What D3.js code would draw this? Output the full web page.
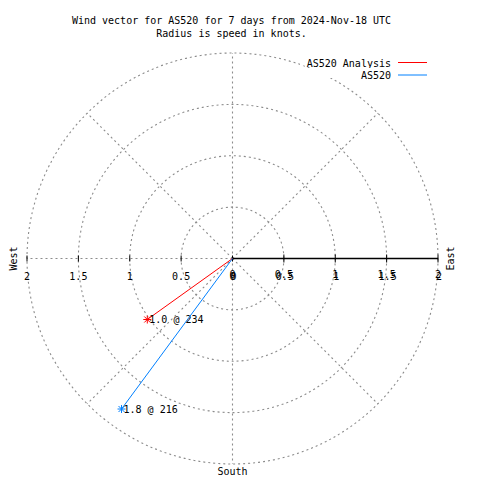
<!DOCTYPE html>
<html><head><meta charset="utf-8">
<script src="https://cdn.jsdelivr.net/npm/d3@7"></script>
<style>body{margin:0;background:#fff}svg{display:block}text{font-family:"DejaVu Sans Mono",monospace;font-size:10px;fill:#000}</style>
</head><body>
<svg id="c" width="480" height="480"></svg>
<script>
const titleLines = ["Wind vector for AS520 for 7 days from 2024-Nov-18 UTC", "Radius is speed in knots."];
const seriesNames = ["AS520 Analysis", "AS520"];
const seriesColors = ["#ff0000", "#0080ff"];
const speeds = [1.02, 1.82];
const directions = [234.4, 216.4];
const radialTicks = [0, 0.5, 1, 1.5, 2];
const gridRadii = [0.5, 1, 1.5, 2];
const spokeAngles = [0, 45, 90, 135, 180, 225, 270, 315];

const svg = d3.select("#c");
const cx = 232.5, cy = 258.5;
const r = d3.scaleLinear().domain([0, 2]).range([0, 205.5]);
const g = svg.append("g").attr("transform", `translate(${cx},${cy})`);
const pt = (sp, dir) => [r(sp) * Math.sin(dir * Math.PI / 180), -r(sp) * Math.cos(dir * Math.PI / 180)];

// grid circles
g.selectAll("circle.grid").data(gridRadii).join("circle")
  .attr("r", d => r(d)).attr("fill", "none").attr("stroke", "#8c8c8c")
  .attr("stroke-width", 1.1).attr("stroke-dasharray", "2,3");
// spokes
g.selectAll("line.spoke").data(spokeAngles).join("line")
  .attr("x1", 0).attr("y1", 0)
  .attr("x2", d => pt(2, d)[0]).attr("y2", d => pt(2, d)[1])
  .attr("stroke", "#8c8c8c").attr("stroke-width", 1.1).attr("stroke-dasharray", "2,3");

// east axis solid
g.append("line").attr("x1", 0).attr("y1", 0).attr("x2", r(2)).attr("y2", 0)
  .attr("stroke", "#000").attr("stroke-width", 1.5);
// ticks east
g.selectAll("line.te").data(radialTicks.slice(1)).join("line")
  .attr("x1", d => r(d)).attr("x2", d => r(d)).attr("y1", -4).attr("y2", 4)
  .attr("stroke", "#000");
// ticks west
g.selectAll("line.tw").data(radialTicks).join("line")
  .attr("x1", d => -r(d)).attr("x2", d => -r(d)).attr("y1", -3).attr("y2", 3)
  .attr("stroke", "#000");
// labels west
g.selectAll("text.lw").data(radialTicks).join("text")
  .attr("x", d => -r(d)).attr("y", 21.5).attr("text-anchor", "middle").text(d => d);
// labels east (printed twice, slightly offset, as in the reference)
[[0, 19], [1, 21.5]].forEach(([dx, dy]) => {
  g.selectAll(null).data(radialTicks).join("text")
    .attr("x", d => r(d) + dx).attr("y", dy).attr("text-anchor", "middle").text(d => d);
});

// vectors
speeds.forEach((sp, i) => {
  const [x, y] = pt(sp, directions[i]);
  g.append("line").attr("x1", 0).attr("y1", 0).attr("x2", x).attr("y2", y)
    .attr("stroke", seriesColors[i]).attr("stroke-width", 1);
  const s = 4;
  const star = g.append("g").attr("transform", `translate(${x},${y})`).attr("stroke", seriesColors[i]);
  star.append("line").attr("x1", -s).attr("x2", s).attr("y1", 0).attr("y2", 0);
  star.append("line").attr("y1", -s).attr("y2", s).attr("x1", 0).attr("x2", 0);
  star.append("line").attr("x1", -s+1).attr("x2", s-1).attr("y1", -s+1).attr("y2", s-1);
  star.append("line").attr("x1", -s+1).attr("x2", s-1).attr("y1", s-1).attr("y2", -s+1);
  g.append("text").attr("x", x + 2).attr("y", y + 3.5)
    .text(`${sp.toFixed(1)} @ ${Math.round(directions[i])}`);
});

// compass labels
svg.append("text").attr("transform", `translate(17,${cy}) rotate(-90)`).attr("text-anchor", "middle").text("West");
svg.append("text").attr("transform", `translate(454,${cy}) rotate(-90)`).attr("text-anchor", "middle").text("East");
svg.append("text").attr("x", cx).attr("y", 475).attr("text-anchor", "middle").text("South");

// title
svg.selectAll("text.title").data(titleLines).join("text")
  .attr("x", 231.5).attr("y", (d, i) => 24 + i * 13).attr("text-anchor", "middle").text(d => d);

// legend
seriesNames.forEach((n, i) => {
  const y = 62.5 + i * 12.5;
  svg.append("rect").attr("x", 300).attr("y", y - 7).attr("width", 128).attr("height", 10).attr("fill", "#fff");
  svg.append("text").attr("x", 391).attr("y", y + 4).attr("text-anchor", "end").text(n);
  svg.append("line").attr("x1", 398).attr("x2", 427).attr("y1", y).attr("y2", y)
    .attr("stroke", seriesColors[i]);
});
</script>
</body></html>
